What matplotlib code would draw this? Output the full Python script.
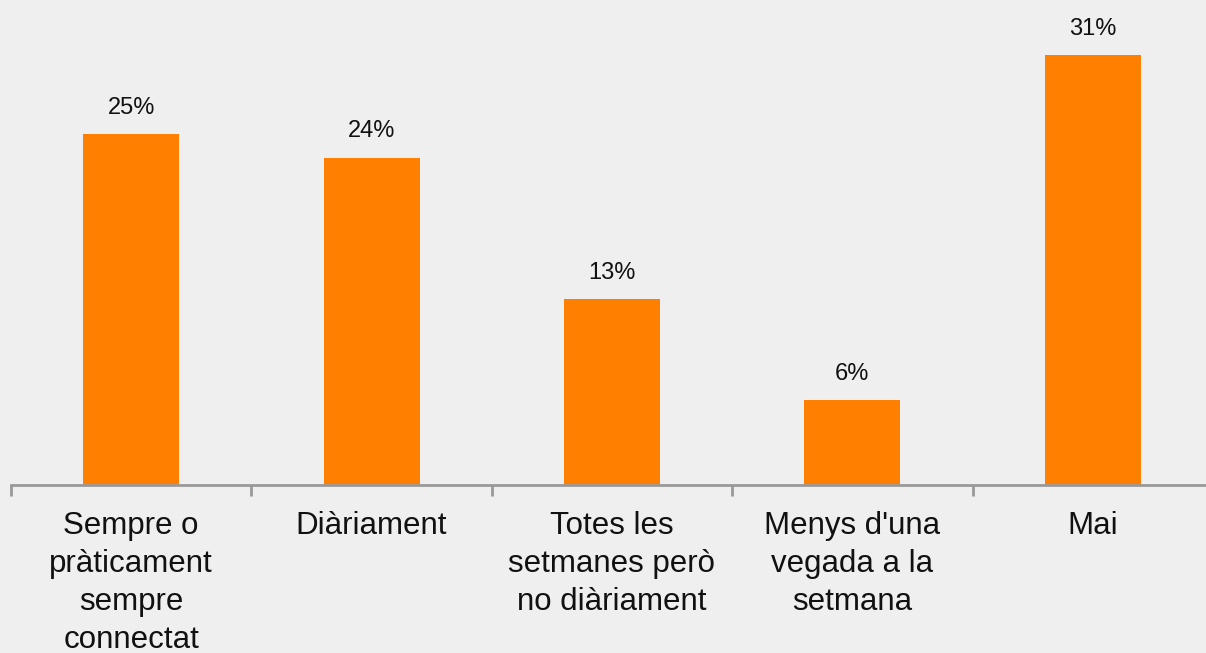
import matplotlib
matplotlib.use("Agg")
import matplotlib.pyplot as plt
import numpy as np

categories = ["Sempre o\npràticament\nsempre\nconnectat", "Diàriament",
              "Totes les\nsetmanes però\nno diàriament", "Menys d'una\nvegada a la\nsetmana", "Mai"]
values = [25.3, 23.6, 13.4, 6.1, 31.0]
value_labels = ["25%", "24%", "13%", "6%", "31%"]

plt.rcParams['font.family'] = ['Liberation Sans', 'DejaVu Sans']
W, H = 1206, 653
fig = plt.figure(figsize=(W/100, H/100), dpi=100)
bg = '#efefef'
fig.patch.set_facecolor(bg)

left = 11/W
right = 1213/W
bottom = (H-485)/H
ax = fig.add_axes([left, bottom, right-left, 485/H])
ax.set_facecolor(bg)

x = np.arange(len(categories))
ax.bar(x, values, width=0.4, color='#FF7F00', zorder=2)
ax.set_xlim(-0.5, len(categories)-0.5)
ax.set_ylim(0, 34.97)

for xi, v, lab in zip(x, values, value_labels):
    ax.annotate(lab, (xi, v), xytext=(0, 11), textcoords='offset points',
                ha='center', va='bottom', fontsize=17, color='#111111')

for s in ['top', 'right', 'left']:
    ax.spines[s].set_visible(False)
ax.spines['bottom'].set_color('#999999')
ax.spines['bottom'].set_linewidth(2)
ax.set_yticks([])
ax.set_xticks(x)
ax.set_xticklabels(categories, fontsize=22.5, color='#111111', linespacing=1.34)
ax.tick_params(axis='x', which='major', length=0, pad=19)
ax.set_xticks(np.arange(-0.5, len(categories)), minor=True)
ax.tick_params(axis='x', which='minor', length=8, width=2, color='#999999', direction='out')

fig.savefig('out.png', dpi=100, facecolor=bg)
